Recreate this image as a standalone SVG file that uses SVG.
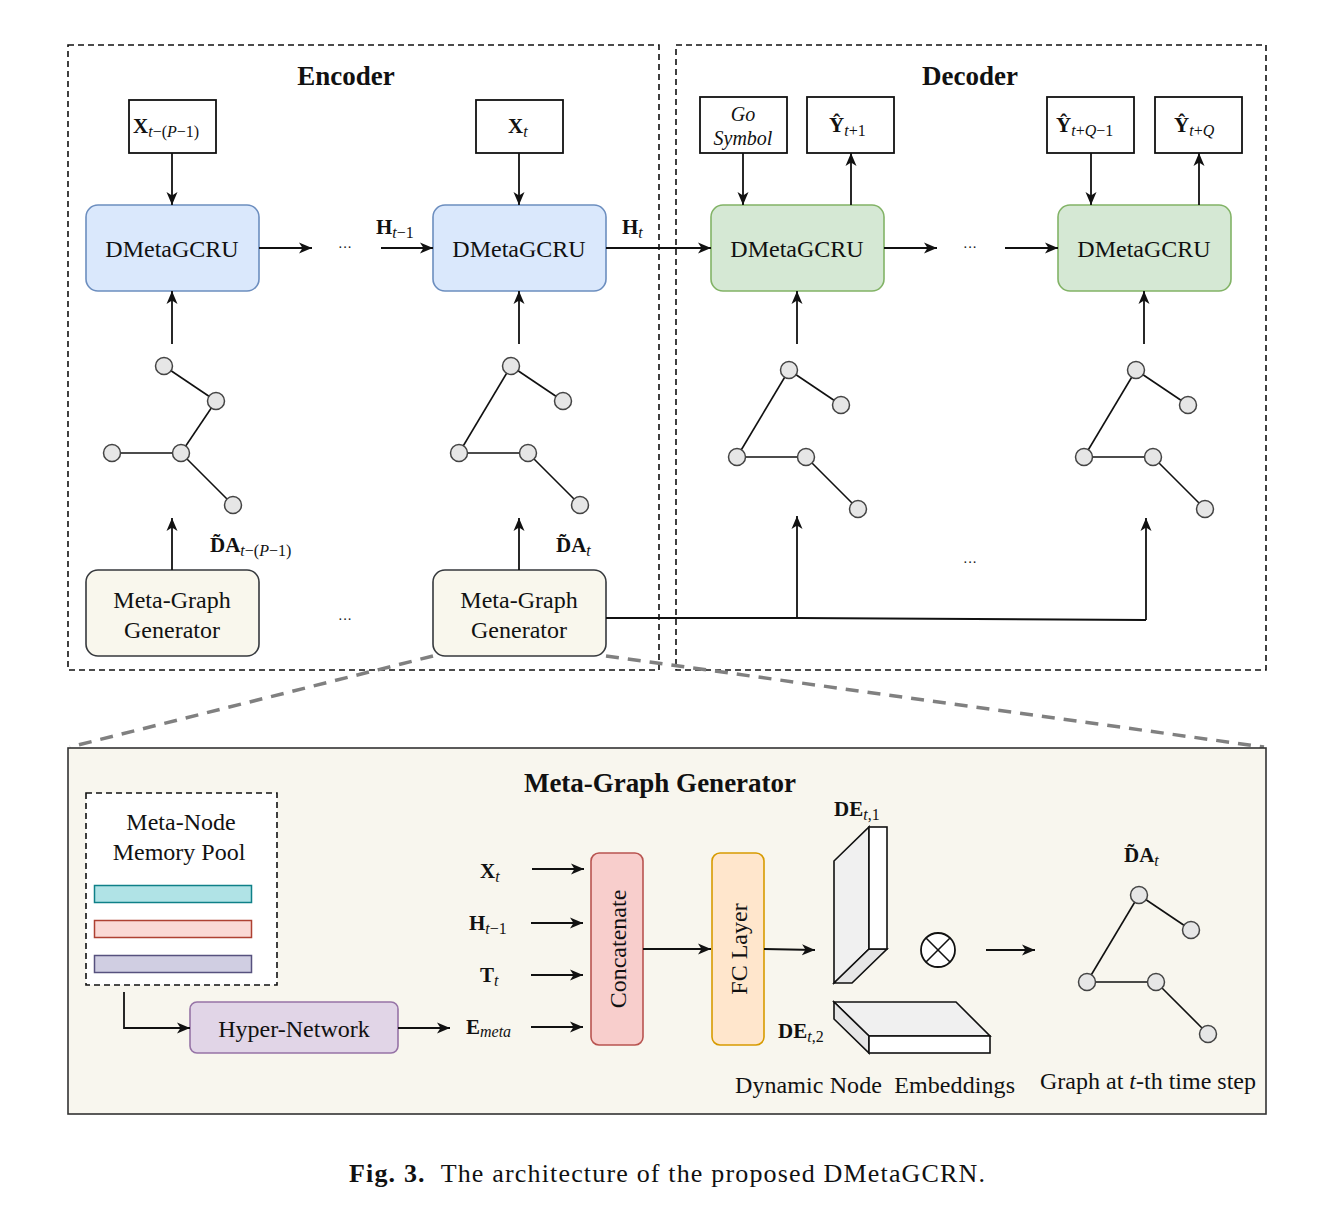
<svg xmlns="http://www.w3.org/2000/svg" width="1336" height="1207" viewBox="0 0 1336 1207">
<style>
text{font-family:"Liberation Serif","Times New Roman",serif;fill:#111}
.t22{font-size:24px}
.title{font-size:27px;font-weight:bold}
.b{font-weight:bold;font-size:21px}
.sub{font-size:16px;font-style:italic}
.subu{font-size:16px}
.frame{fill:none;stroke:#111;stroke-width:1.6;stroke-dasharray:6,4}
.inbox{fill:#fff;stroke:#111;stroke-width:1.8}
.blue{fill:#dae8fc;stroke:#6c8ebf;stroke-width:1.6}
.green{fill:#d5e8d4;stroke:#82b366;stroke-width:1.6}
.mgg{fill:#f9f7ed;stroke:#36393d;stroke-width:1.6}
.ln{fill:none;stroke:#111;stroke-width:1.8}
.arr{fill:none;stroke:#111;stroke-width:1.8;marker-end:url(#ah)}
.edge{stroke:#111;stroke-width:1.6}
.nd{fill:#e6e6e6;stroke:#444;stroke-width:1.5}
.zoom{fill:none;stroke:#808080;stroke-width:3.5;stroke-dasharray:13,9}
</style>
<defs>
<marker id="ah" markerUnits="userSpaceOnUse" markerWidth="14" markerHeight="12" refX="13" refY="6" orient="auto">
<path d="M0,0.5 L13,6 L0,11.5 L3.5,6 Z" fill="#111"/>
</marker>
<g id="graph">
<line class="edge" x1="0" y1="0" x2="52" y2="35"/>
<line class="edge" x1="0" y1="0" x2="-52" y2="87"/>
<line class="edge" x1="-52" y1="87" x2="17" y2="87"/>
<line class="edge" x1="17" y1="87" x2="69" y2="139"/>
<circle class="nd" cx="0" cy="0" r="8.5"/>
<circle class="nd" cx="52" cy="35" r="8.5"/>
<circle class="nd" cx="-52" cy="87" r="8.5"/>
<circle class="nd" cx="17" cy="87" r="8.5"/>
<circle class="nd" cx="69" cy="139" r="8.5"/>
</g>
</defs>
<rect width="1336" height="1207" fill="#fff"/>

<!-- frames -->
<g id="encoder-frame">
<rect class="frame" x="68" y="45" width="591" height="625"/>
<text class="title" x="346" y="85" text-anchor="middle">Encoder</text>
</g>
<g id="decoder-frame">
<rect class="frame" x="676" y="45" width="590" height="625"/>
<text class="title" x="970" y="85" text-anchor="middle">Decoder</text>
</g>

<!-- zoom lines -->
<g id="zoom-lines">
<line class="zoom" x1="433" y1="656" x2="70" y2="747"/>
<line class="zoom" x1="606" y1="656" x2="1264" y2="747"/>
</g>

<!-- encoder inputs -->
<g id="x-tp1">
<rect class="inbox" x="129" y="100" width="87" height="53"/>
<text x="133" y="133"><tspan class="b">X</tspan><tspan class="sub" dy="4">t</tspan><tspan class="subu">−(</tspan><tspan class="sub">P</tspan><tspan class="subu">−1)</tspan></text>
</g>
<g id="x-t">
<rect class="inbox" x="476" y="100" width="87" height="53"/>
<text x="508" y="133"><tspan class="b">X</tspan><tspan class="sub" dy="4">t</tspan></text>
</g>

<!-- decoder inputs/outputs -->
<g id="go-symbol">
<rect class="inbox" x="700" y="97" width="87" height="56"/>
<text x="743" y="121" text-anchor="middle" font-size="20" font-style="italic">Go</text>
<text x="743" y="145" text-anchor="middle" font-size="20" font-style="italic">Symbol</text>
</g>
<g id="y-t1">
<rect class="inbox" x="807" y="97" width="87" height="56"/>
<text x="829" y="132"><tspan class="b">Ŷ</tspan><tspan class="sub" dy="4">t</tspan><tspan class="subu">+1</tspan></text>
</g>
<g id="y-tq1">
<rect class="inbox" x="1047" y="97" width="87" height="56"/>
<text x="1056" y="132"><tspan class="b">Ŷ</tspan><tspan class="sub" dy="4">t</tspan><tspan class="subu">+</tspan><tspan class="sub">Q</tspan><tspan class="subu">−1</tspan></text>
</g>
<g id="y-tq">
<rect class="inbox" x="1155" y="97" width="87" height="56"/>
<text x="1174" y="132"><tspan class="b">Ŷ</tspan><tspan class="sub" dy="4">t</tspan><tspan class="subu">+</tspan><tspan class="sub">Q</tspan></text>
</g>

<!-- GCRU cells -->
<g id="enc-gcru-1">
<rect class="blue" x="86" y="205" width="173" height="86" rx="12"/>
<text class="t22" x="172" y="257" text-anchor="middle">DMetaGCRU</text>
</g>
<g id="enc-gcru-2">
<rect class="blue" x="433" y="205" width="173" height="86" rx="12"/>
<text class="t22" x="519" y="257" text-anchor="middle">DMetaGCRU</text>
</g>
<g id="dec-gcru-1">
<rect class="green" x="711" y="205" width="173" height="86" rx="12"/>
<text class="t22" x="797" y="257" text-anchor="middle">DMetaGCRU</text>
</g>
<g id="dec-gcru-2">
<rect class="green" x="1058" y="205" width="173" height="86" rx="12"/>
<text class="t22" x="1144" y="257" text-anchor="middle">DMetaGCRU</text>
</g>

<!-- graphs -->
<g id="graph-enc-1">
<line class="edge" x1="164" y1="366" x2="216" y2="401"/>
<line class="edge" x1="216" y1="401" x2="181" y2="453"/>
<line class="edge" x1="112" y1="453" x2="181" y2="453"/>
<line class="edge" x1="181" y1="453" x2="233" y2="505"/>
<circle class="nd" cx="164" cy="366" r="8.5"/>
<circle class="nd" cx="216" cy="401" r="8.5"/>
<circle class="nd" cx="112" cy="453" r="8.5"/>
<circle class="nd" cx="181" cy="453" r="8.5"/>
<circle class="nd" cx="233" cy="505" r="8.5"/>
</g>
<g id="graph-enc-2"><use href="#graph" transform="translate(511,366)"/></g>
<g id="graph-dec-1"><use href="#graph" transform="translate(789,370)"/></g>
<g id="graph-dec-2"><use href="#graph" transform="translate(1136,370)"/></g>

<!-- meta-graph generators -->
<g id="mgg-1">
<rect class="mgg" x="86" y="570" width="173" height="86" rx="12"/>
<text class="t22" x="172" y="608" text-anchor="middle">Meta-Graph</text>
<text class="t22" x="172" y="638" text-anchor="middle">Generator</text>
</g>
<g id="mgg-2">
<rect class="mgg" x="433" y="570" width="173" height="86" rx="12"/>
<text class="t22" x="519" y="608" text-anchor="middle">Meta-Graph</text>
<text class="t22" x="519" y="638" text-anchor="middle">Generator</text>
</g>

<!-- top labels -->
<g id="labels-top">
<text x="345" y="252" text-anchor="middle" font-size="14">···</text>
<text x="970" y="252" text-anchor="middle" font-size="14">···</text>
<text x="345" y="624" text-anchor="middle" font-size="14">···</text>
<text x="970" y="567" text-anchor="middle" font-size="14">···</text>
<text x="376" y="234"><tspan class="b">H</tspan><tspan class="sub" dy="4">t</tspan><tspan class="subu">−1</tspan></text>
<text x="622" y="234"><tspan class="b">H</tspan><tspan class="sub" dy="4">t</tspan></text>
<text x="210" y="552"><tspan class="b">D̃A</tspan><tspan class="sub" dy="4">t</tspan><tspan class="subu">−(</tspan><tspan class="sub">P</tspan><tspan class="subu">−1)</tspan></text>
<text x="556" y="552"><tspan class="b">D̃A</tspan><tspan class="sub" dy="4">t</tspan></text>
</g>

<!-- connectors -->
<g id="connectors">
<line class="arr" x1="172" y1="153" x2="172" y2="205"/>
<line class="arr" x1="519" y1="153" x2="519" y2="205"/>
<line class="arr" x1="743" y1="153" x2="743" y2="205"/>
<line class="arr" x1="851" y1="205" x2="851" y2="153"/>
<line class="arr" x1="1091" y1="153" x2="1091" y2="205"/>
<line class="arr" x1="1199" y1="205" x2="1199" y2="153"/>
<line class="arr" x1="259" y1="248" x2="312" y2="248"/>
<line class="arr" x1="381" y1="248" x2="433" y2="248"/>
<line class="arr" x1="606" y1="248" x2="711" y2="248"/>
<line class="arr" x1="884" y1="248" x2="937" y2="248"/>
<line class="arr" x1="1005" y1="248" x2="1058" y2="248"/>
<line class="arr" x1="172" y1="344" x2="172" y2="291"/>
<line class="arr" x1="519" y1="344" x2="519" y2="291"/>
<line class="arr" x1="797" y1="344" x2="797" y2="291"/>
<line class="arr" x1="1144" y1="344" x2="1144" y2="291"/>
<line class="arr" x1="172" y1="570" x2="172" y2="518"/>
<line class="arr" x1="519" y1="570" x2="519" y2="518"/>
<polyline class="ln" points="606,618 797,618 1146,620"/>
<line class="arr" x1="797" y1="618" x2="797" y2="516"/>
<line class="arr" x1="1146" y1="620" x2="1146" y2="518"/>
</g>

<!-- bottom panel -->
<g id="mgg-detail">
<rect x="68" y="748" width="1198" height="366" fill="#f8f6ee" stroke="#333" stroke-width="1.6"/>
<text class="title" x="660" y="792" text-anchor="middle">Meta-Graph Generator</text>
</g>

<g id="memory-pool">
<rect x="86" y="793" width="191" height="192" fill="#fff" stroke="#111" stroke-width="1.6" stroke-dasharray="6,4"/>
<text class="t22" x="181" y="830" text-anchor="middle">Meta-Node</text>
<text class="t22" x="179" y="860" text-anchor="middle">Memory Pool</text>
<rect x="94.5" y="885.5" width="157" height="17" fill="#b0e3e6" stroke="#0e8088" stroke-width="1.5"/>
<rect x="94.5" y="920.5" width="157" height="17" fill="#fad9d5" stroke="#ae4132" stroke-width="1.5"/>
<rect x="94.5" y="955.5" width="157" height="17" fill="#d0cee2" stroke="#56517e" stroke-width="1.5"/>
</g>

<g id="hyper-network">
<rect x="190" y="1002" width="208" height="51" rx="7" fill="#e1d5e7" stroke="#9673a6" stroke-width="1.6"/>
<text class="t22" x="294" y="1037" text-anchor="middle">Hyper-Network</text>
</g>

<g id="input-labels">
<text x="480" y="878"><tspan class="b">X</tspan><tspan class="sub" dy="4">t</tspan></text>
<text x="469" y="930"><tspan class="b">H</tspan><tspan class="sub" dy="4">t</tspan><tspan class="subu">−1</tspan></text>
<text x="480" y="982"><tspan class="b">T</tspan><tspan class="sub" dy="4">t</tspan></text>
<text x="466" y="1034"><tspan class="b">E</tspan><tspan class="sub" dy="3">meta</tspan></text>
</g>

<g id="concatenate">
<rect x="591" y="853" width="52" height="192" rx="8" fill="#f8cecc" stroke="#b85450" stroke-width="1.6"/>
<text class="t22" transform="translate(626,949) rotate(-90)" text-anchor="middle">Concatenate</text>
</g>
<g id="fc-layer">
<rect x="712" y="853" width="52" height="192" rx="8" fill="#ffe6cc" stroke="#d79b00" stroke-width="1.6"/>
<text class="t22" transform="translate(747,949) rotate(-90)" text-anchor="middle">FC Layer</text>
</g>

<g id="de-t1">
<polygon points="834,861 869,827 869,949 834,983" fill="#f0f0f0" stroke="#111" stroke-width="1.6"/>
<polygon points="834,983 869,949 887,949 852,983" fill="#e6e6e6" stroke="#111" stroke-width="1.6"/>
<rect x="869" y="827" width="18" height="122" fill="#fff" stroke="#111" stroke-width="1.6"/>
<text x="834" y="816"><tspan class="b">DE</tspan><tspan class="sub" dy="4">t</tspan><tspan class="subu">,1</tspan></text>
</g>
<g id="de-t2">
<polygon points="834,1002 956,1002 990,1036 869,1036" fill="#f0f0f0" stroke="#111" stroke-width="1.6"/>
<polygon points="834,1002 869,1036 869,1053 834,1019" fill="#e6e6e6" stroke="#111" stroke-width="1.6"/>
<rect x="869" y="1036" width="121" height="17" fill="#fff" stroke="#111" stroke-width="1.6"/>
<text x="778" y="1038"><tspan class="b">DE</tspan><tspan class="sub" dy="4">t</tspan><tspan class="subu">,2</tspan></text>
</g>

<g id="otimes">
<circle cx="938" cy="950" r="17" fill="#fff" stroke="#111" stroke-width="1.8"/>
<line class="edge" x1="926" y1="938" x2="950" y2="962" stroke-width="1.8"/>
<line class="edge" x1="950" y1="938" x2="926" y2="962" stroke-width="1.8"/>
</g>

<g id="graph-out">
<use href="#graph" transform="translate(1139,895)"/>
<text x="1124" y="862"><tspan class="b">D̃A</tspan><tspan class="sub" dy="4">t</tspan></text>
</g>

<g id="bottom-labels">
<text class="t22" x="735" y="1093" textLength="280" xml:space="preserve">Dynamic Node  Embeddings</text>
<text class="t22" x="1148" y="1089" text-anchor="middle" xml:space="preserve">Graph at <tspan font-style="italic">t</tspan>-th time step</text>
</g>

<g id="connectors-bottom">
<polyline class="arr" points="124,992 124,1028 190,1028"/>
<line class="arr" x1="398" y1="1028" x2="450" y2="1028"/>
<line class="arr" x1="532" y1="869" x2="584" y2="869"/>
<line class="arr" x1="531" y1="923" x2="583" y2="923"/>
<line class="arr" x1="531" y1="975" x2="583" y2="975"/>
<line class="arr" x1="531" y1="1027" x2="583" y2="1027"/>
<line class="arr" x1="643" y1="949" x2="711" y2="949"/>
<line class="arr" x1="764" y1="949" x2="815" y2="950"/>
<line class="arr" x1="986" y1="950" x2="1035" y2="950"/>
</g>

<g id="caption">
<text x="349" y="1182" font-size="26" textLength="636" xml:space="preserve"><tspan font-weight="bold">Fig. 3.</tspan>  The architecture of the proposed DMetaGCRN.</text>
</g>
</svg>
